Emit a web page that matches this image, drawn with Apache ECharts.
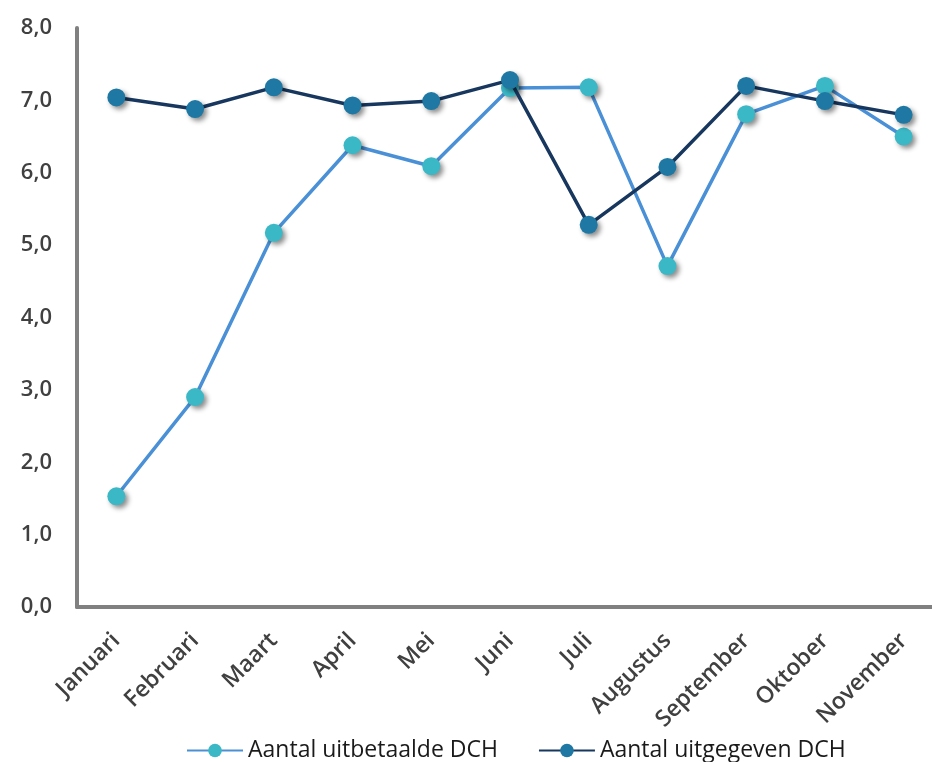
<!DOCTYPE html>
<html><head><meta charset="utf-8">
<script src="https://cdn.jsdelivr.net/npm/echarts@6/dist/echarts.min.js"></script>
<style>html,body{margin:0;padding:0;background:#fff}#c{width:932px;height:762px}</style>
</head><body><div id="c"></div>
<script>
const categories = ['Januari','Februari','Maart','April','Mei','Juni','Juli','Augustus','September','Oktober','November'];
const uitbetaalde = [1.53, 2.9, 5.17, 6.38, 6.09, 7.17, 7.18, 4.71, 6.81, 7.2, 6.5];
const uitgegeven = [7.04, 6.88, 7.18, 6.93, 6.99, 7.28, 5.28, 6.08, 7.2, 6.99, 6.8];
const seriesNames = ['Aantal uitbetaalde DCH', 'Aantal uitgegeven DCH'];

const chart = echarts.init(document.getElementById('c'));
const font = 'Open Sans';
const shadow = {shadowColor:'rgba(0,0,0,0.45)', shadowBlur:5, shadowOffsetX:3, shadowOffsetY:3};
chart.setOption({
  animation:false,
  grid:{left:77, top:28, width:866, height:579, containLabel:false, outerBoundsMode:'none'},
  legend:{
    bottom:-5, left:181, itemWidth:56, itemHeight:17, itemGap:40,
    textStyle:{fontFamily:font, fontSize:23, color:'#1a1a1a'},
    data:seriesNames
  },
  xAxis:{
    type:'category', data:categories, boundaryGap:true,
    axisLine:{lineStyle:{color:'#808080', width:4}},
    axisTick:{show:false},
    axisLabel:{rotate:45, margin:30, fontFamily:font, fontSize:23, fontWeight:600, color:'#404040', interval:0}
  },
  yAxis:{
    type:'value', min:0, max:8, interval:1,
    axisLine:{show:true, lineStyle:{color:'#808080', width:4}},
    axisTick:{show:false},
    splitLine:{show:false},
    axisLabel:{margin:25, fontFamily:font, fontSize:22, fontWeight:600, color:'#404040',
      formatter:v=>v.toFixed(1).replace('.',',')}
  },
  series:[
    {name:seriesNames[0], type:'line', data:uitbetaalde, symbol:'circle', symbolSize:18,
     lineStyle:{color:'#4a90d6', width:3.5},
     itemStyle:Object.assign({color:'#3bb8c6'}, shadow), z:2},
    {name:seriesNames[1], type:'line', data:uitgegeven, symbol:'circle', symbolSize:18,
     lineStyle:{color:'#17375e', width:3.5},
     itemStyle:Object.assign({color:'#1e78a3'}, shadow), z:3}
  ]
});
</script></body></html>
